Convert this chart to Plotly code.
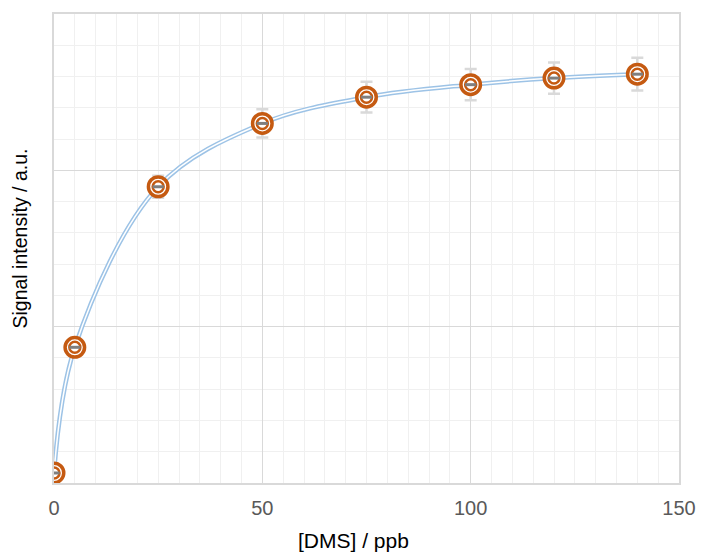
import plotly.graph_objects as go

# Data
dms_ppb = [0, 5, 25, 50, 75, 100, 120, 140]
signal = [0.064, 0.868, 1.895, 2.300, 2.468, 2.548, 2.590, 2.615]
signal_err = [0.01, 0.03, 0.07, 0.09, 0.098, 0.10, 0.10, 0.105]
x_ticks = [0, 50, 100, 150]

ORANGE = "#C55A11"
BLUE = "#9DC3E6"
FONT = "Liberation Sans, Arial, sans-serif"

fig = go.Figure()

# fitted curve: double line (blue outline with white centre)
fig.add_trace(go.Scatter(x=dms_ppb, y=signal, mode="lines",
                         line=dict(color=BLUE, width=4.5, shape="spline", smoothing=1.0),
                         hoverinfo="skip", showlegend=False))
fig.add_trace(go.Scatter(x=dms_ppb, y=signal, mode="lines",
                         line=dict(color="white", width=1.5, shape="spline", smoothing=1.0),
                         hoverinfo="skip", showlegend=False))

# error bars
fig.add_trace(go.Scatter(x=dms_ppb, y=signal, mode="markers",
                         marker=dict(size=1, color="rgba(0,0,0,0)"),
                         error_y=dict(type="data", array=signal_err, visible=True,
                                      color="#D9D9D9", thickness=2.5, width=6),
                         showlegend=False))

# outer ring
fig.add_trace(go.Scatter(x=dms_ppb, y=signal, mode="markers",
                         marker=dict(symbol="circle", size=19.5, color="white",
                                     line=dict(color=ORANGE, width=3.5)),
                         showlegend=False))
# inner ring
fig.add_trace(go.Scatter(x=dms_ppb, y=signal, mode="markers",
                         marker=dict(symbol="circle", size=11, color="white",
                                     line=dict(color=ORANGE, width=2.5)),
                         showlegend=False))
# centre dash
fig.add_trace(go.Scatter(x=dms_ppb, y=signal, mode="markers",
                         marker=dict(symbol="line-ew", size=8,
                                     line=dict(color="#7F7F7F", width=3)),
                         showlegend=False))

fig.update_layout(
    width=708, height=553,
    margin=dict(l=54, r=19, t=14, b=70),
    paper_bgcolor="white", plot_bgcolor="white",
    font=dict(family=FONT, size=20, color="#595959"),
    xaxis=dict(range=[0, 150], tickvals=x_ticks, ticktext=[str(v) for v in x_ticks],
               showgrid=True, gridcolor="#D9D9D9", gridwidth=1,
               minor=dict(dtick=5, showgrid=True, gridcolor="#F0F0F0", gridwidth=1),
               showline=True, linecolor="#D9D9D9", linewidth=1.5, mirror=True,
               zeroline=False, ticks="", ticklabelstandoff=6, ticklabeloverflow="allow",
               tickfont=dict(family=FONT, size=20, color="#595959")),
    yaxis=dict(range=[0, 3], dtick=1, showticklabels=False,
               showgrid=True, gridcolor="#D9D9D9", gridwidth=1,
               minor=dict(dtick=0.2, showgrid=True, gridcolor="#F0F0F0", gridwidth=1),
               showline=True, linecolor="#D9D9D9", linewidth=1.5, mirror=True,
               zeroline=False, ticks=""),
    annotations=[
        dict(text="[DMS] / ppb", xref="paper", yref="paper", x=0.5, y=0,
             xshift=-13, yshift=-57, xanchor="center", yanchor="middle", showarrow=False,
             font=dict(family=FONT, size=21, color="black")),
        dict(text="Signal intensity / a.u.", xref="paper", yref="paper", x=0, y=0.5,
             xshift=-35, yshift=10, xanchor="center", yanchor="middle", showarrow=False,
             textangle=-90,
             font=dict(family=FONT, size=19.5, color="black")),
    ],
)

fig.write_html("out.html")
